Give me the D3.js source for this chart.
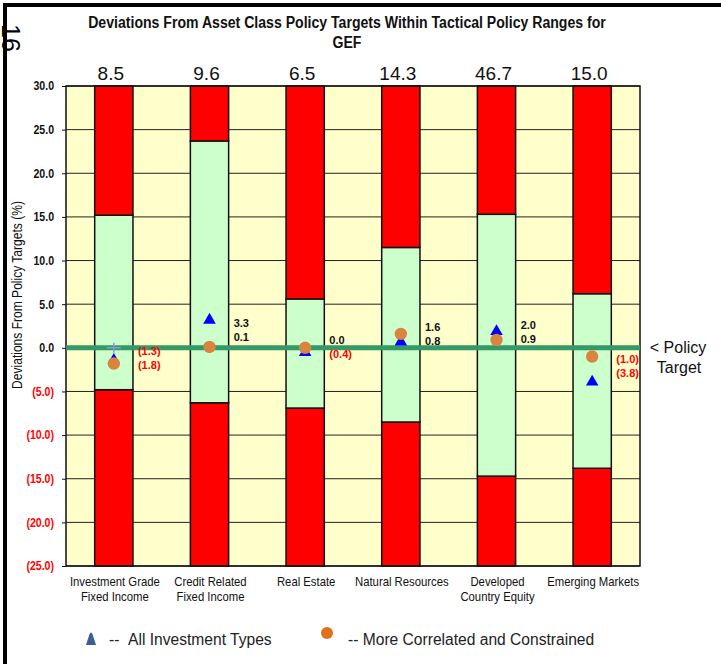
<!DOCTYPE html>
<html>
<head>
<meta charset="utf-8">
<script src="https://cdn.jsdelivr.net/npm/d3@7"></script>
<style>
  html, body { margin: 0; padding: 0; background: #fff; }
  svg { display: block; }
  .narrow { font-family: "Liberation Sans Narrow", "Arial Narrow", "Liberation Sans", Arial, sans-serif; }
  .sans { font-family: "Liberation Sans", Arial, sans-serif; }
</style>
</head>
<body>
<svg id="chart" width="721" height="664"></svg>
<script>
// Asset classes and their policy targets (%)
const categories = [
  ["Investment Grade", "Fixed Income"],
  ["Credit Related", "Fixed Income"],
  ["Real Estate"],
  ["Natural Resources"],
  ["Developed", "Country Equity"],
  ["Emerging Markets"]
];
const policyTargets = [8.5, 9.6, 6.5, 14.3, 46.7, 15.0];

// Tactical range limits, expressed as deviation from target (%)
const rangeLow  = [-4.8, -6.3, -6.9, -8.5, -14.7, -13.8];
const rangeHigh = [15.2, 23.7, 5.6, 11.5, 15.3, 6.2];

// Current deviations from target
const allInvestmentTypes = [-1.3, 3.3, -0.4, 0.8, 2.0, -3.8];
const moreCorrelated     = [-1.8, 0.1, 0.0, 1.6, 0.9, -1.0];
const crossMarker        = [0.0, null, null, null, null, null];

// Axis
const yMin = -25, yMax = 30;
const yTicks = [30, 25, 20, 15, 10, 5, 0, -5, -10, -15, -20, -25];

const svg = d3.select("#chart");
const plot = { left: 66, right: 640, top: 86, bottom: 566 };

const x = d3.scaleBand()
  .domain(d3.range(categories.length))
  .range([plot.left, plot.right])
  .paddingInner(0).paddingOuter(0);
const y = d3.scaleLinear().domain([yMin, yMax]).range([plot.bottom, plot.top]);
const barW = x.bandwidth() * 0.4;
const cx = i => x(i) + x.bandwidth() / 2;

const fmt = v => v < 0 ? "(" + Math.abs(v).toFixed(1) + ")" : v.toFixed(1);

// Condense a text element horizontally (narrow face look)
function squeeze(sel, factor) {
  sel.each(function () {
    const len = this.getComputedTextLength();
    d3.select(this).attr("textLength", len * factor).attr("lengthAdjust", "spacingAndGlyphs");
  });
  return sel;
}

// Outer frame (top and left rules)
svg.append("line").attr("x1", 5).attr("x2", 721).attr("y1", 5).attr("y2", 5)
  .attr("stroke", "#000").attr("stroke-width", 4);
svg.append("line").attr("x1", 5).attr("x2", 5).attr("y1", 3).attr("y2", 664)
  .attr("stroke", "#000").attr("stroke-width", 4);

// Page number, rotated
svg.append("text").attr("class", "sans")
  .attr("transform", "translate(2,24) rotate(90)")
  .attr("font-size", 25).attr("fill", "#000").text("16");

// Title
const titleLines = ["Deviations From Asset Class Policy Targets Within Tactical Policy Ranges for", "GEF"];
titleLines.forEach((t, k) => {
  const el = svg.append("text").attr("class", "narrow")
    .attr("x", 347).attr("y", 28 + k * 20).attr("text-anchor", "middle")
    .attr("font-size", 16).attr("font-weight", "bold").attr("fill", "#111")
    .text(t);
  squeeze(el, 0.88);
});

// Plot background
svg.append("rect")
  .attr("x", plot.left).attr("y", plot.top)
  .attr("width", plot.right - plot.left).attr("height", plot.bottom - plot.top)
  .attr("fill", "#ffffcc");

// Horizontal gridlines
svg.append("g").selectAll("line").data(yTicks).join("line")
  .attr("x1", plot.left).attr("x2", plot.right)
  .attr("y1", d => y(d)).attr("y2", d => y(d))
  .attr("stroke", "#222").attr("stroke-width", 1);

// Range bars: red below, green inside, red above
const bars = svg.append("g");
categories.forEach((c, i) => {
  const segs = [
    [yMin, rangeLow[i], "#ff0000"],
    [rangeLow[i], rangeHigh[i], "#ccffcc"],
    [rangeHigh[i], yMax, "#ff0000"]
  ];
  segs.forEach(([a, b, col]) => {
    bars.append("rect")
      .attr("x", cx(i) - barW / 2).attr("width", barW)
      .attr("y", y(b)).attr("height", y(a) - y(b))
      .attr("fill", col).attr("stroke", "#111").attr("stroke-width", 1.5);
  });
});

// Plot border
svg.append("rect")
  .attr("x", plot.left).attr("y", plot.top)
  .attr("width", plot.right - plot.left).attr("height", plot.bottom - plot.top)
  .attr("fill", "none").attr("stroke", "#111").attr("stroke-width", 1.5);

// Policy target line at zero
svg.append("line")
  .attr("x1", plot.left).attr("x2", plot.right)
  .attr("y1", y(0)).attr("y2", y(0))
  .attr("stroke", "#339966").attr("stroke-width", 5);

// Y axis
const yAxis = svg.append("g")
  .attr("transform", `translate(${plot.left},0)`)
  .call(d3.axisLeft(y).tickValues(yTicks).tickSize(4).tickPadding(8).tickFormat(fmt));
yAxis.select(".domain").remove();
yAxis.selectAll(".tick line").attr("stroke", "#111");
squeeze(yAxis.selectAll(".tick text")
  .attr("class", "narrow")
  .attr("font-size", 12).attr("font-weight", "bold")
  .attr("fill", d => d < 0 ? "#ff0000" : "#111"), 0.88);

// Y axis title
squeeze(svg.append("text").attr("class", "narrow")
  .attr("transform", "translate(22,295) rotate(-90)")
  .attr("text-anchor", "middle").attr("font-size", 14).attr("fill", "#111")
  .text("Deviations From Policy Targets (%)"), 0.86);

// Policy target values above each column
svg.append("g").selectAll("text").data(policyTargets).join("text")
  .attr("class", "sans")
  .attr("x", (d, i) => cx(i) - 3).attr("y", 80)
  .attr("text-anchor", "middle").attr("font-size", 19).attr("fill", "#111")
  .text(d => d.toFixed(1));

// Category labels
categories.forEach((lines, i) => {
  lines.forEach((ln, k) => {
    const el = svg.append("text").attr("class", "narrow")
      .attr("x", cx(i) + 1).attr("y", 586 + k * 15)
      .attr("text-anchor", "middle").attr("font-size", 13).attr("fill", "#111")
      .text(ln);
    squeeze(el, 0.87);
  });
});

// Cross marker
svg.append("g").selectAll("path").data(crossMarker.map((v, i) => [v, i]).filter(d => d[0] !== null))
  .join("path")
  .attr("d", d => `M${cx(d[1]) - 7},${y(d[0])}h14M${cx(d[1])},${y(d[0]) - 5}v10`)
  .attr("stroke", "#8899dd").attr("stroke-width", 1.5).attr("fill", "none");

// All investment types (triangles)
const tri = d3.symbol().type(d3.symbolTriangle).size(68);
svg.append("g").selectAll("path").data(allInvestmentTypes).join("path")
  .attr("d", tri)
  .attr("transform", (d, i) => `translate(${cx(i)},${y(d) + 1})`)
  .attr("fill", "#0000ff");

// More correlated and constrained (circles)
svg.append("g").selectAll("circle").data(moreCorrelated).join("circle")
  .attr("cx", (d, i) => cx(i)).attr("cy", d => y(d))
  .attr("r", 6.2).attr("fill", "#d9843f");

// Value labels to the right of each column, higher value on top
const labG = svg.append("g");
categories.forEach((c, i) => {
  const vals = [allInvestmentTypes[i], moreCorrelated[i]].sort((a, b) => b - a);
  const mid = y((vals[0] + vals[1]) / 2) - 3;
  const gap = 14;
  vals.forEach((v, k) => {
    labG.append("text").attr("class", "sans")
      .attr("x", cx(i) + barW / 2 + 5)
      .attr("y", mid + (k === 0 ? -gap / 2 : gap / 2) + 4)
      .attr("font-size", 11).attr("font-weight", "bold")
      .attr("fill", v < 0 ? "#ff0000" : "#111")
      .text(fmt(v));
  });
});

// Policy target annotation
const pt = svg.append("text").attr("class", "sans")
  .attr("text-anchor", "middle").attr("font-size", 16).attr("fill", "#111");
pt.append("tspan").attr("x", 678).attr("y", y(0) + 5).text("< Policy");
pt.append("tspan").attr("x", 679).attr("y", y(0) + 25).text("Target");

// Legend
const lg = svg.append("g").attr("class", "sans").attr("font-size", 15.6).attr("fill", "#222")
  .style("white-space", "pre");
lg.append("path").attr("d", "M86,645 L89.5,634 Q91,631 92.5,634 L96,645 Z").attr("fill", "#3c6096");
lg.append("text").attr("x", 109).attr("y", 645).text("--\u00a0\u00a0All Investment Types");
lg.append("circle").attr("cx", 327).attr("cy", 633).attr("r", 6).attr("fill", "#e0701a");
lg.append("text").attr("x", 348).attr("y", 645).text("-- More Correlated and Constrained");
</script>
</body>
</html>
